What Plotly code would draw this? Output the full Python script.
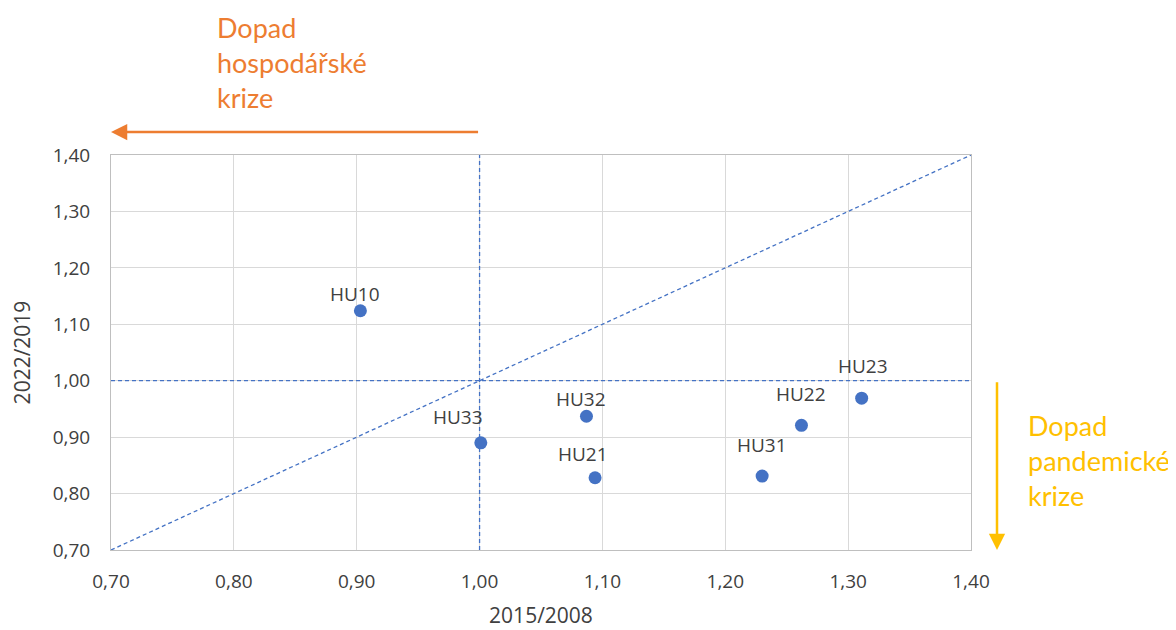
import plotly.graph_objects as go

regions = ["HU10", "HU33", "HU32", "HU21", "HU31", "HU22", "HU23"]
x_2015_2008 = [0.903, 1.001, 1.087, 1.094, 1.230, 1.262, 1.311]
y_2022_2019 = [1.124, 0.890, 0.937, 0.828, 0.831, 0.921, 0.969]
# label offsets (style only), pixels
label_dx = [-5, -23, -5, -12, 0, 0, 1]
label_dy = [17, 26, 17, 24, 31, 31, 32]

tick_vals = [0.70, 0.80, 0.90, 1.00, 1.10, 1.20, 1.30, 1.40]
tick_text = ["0,70", "0,80", "0,90", "1,00", "1,10", "1,20", "1,30", "1,40"]

blue = "#4472C4"
orange = "#ED7D31"
yellow = "#FFC000"
txt = "#404040"
font_main = "Open Sans, Noto Sans"

fig = go.Figure()

# reference lines
for xs, ys in [([0.70, 1.40], [0.70, 1.40]), ([0.70, 1.40], [1.00, 1.00]), ([1.00, 1.00], [0.70, 1.40])]:
    fig.add_trace(go.Scatter(x=xs, y=ys, mode="lines",
                             line=dict(color=blue, width=1.3, dash="4px,3px"), hoverinfo="skip"))

fig.add_trace(go.Scatter(x=x_2015_2008, y=y_2022_2019, mode="markers",
                         marker=dict(color=blue, size=13), text=regions))

for r, xv, yv, dx, dy in zip(regions, x_2015_2008, y_2022_2019, label_dx, label_dy):
    fig.add_annotation(x=xv, y=yv, text=r, showarrow=False, xshift=dx, yshift=dy,
                       font=dict(family=font_main, size=19, color=txt))

# orange arrow (economic crisis)
fig.add_annotation(x=0.70, y=(549 - 131) / 395, xref="x", yref="y domain", ax=1.00,
                   ay=(549 - 131) / 395, axref="x", ayref="y domain", showarrow=True,
                   arrowhead=2, arrowsize=1.3, arrowwidth=2.5, arrowcolor=orange, text="")
fig.add_annotation(x=(214 - 110) / 860, y=(549 - 8) / 395, xref="paper", yref="paper",
                   xanchor="left", yanchor="top", align="left", showarrow=False,
                   text="Dopad<br>hospodářské<br>krize",
                   font=dict(family="Lato, Open Sans", size=27, color=orange))

# yellow arrow (pandemic crisis)
fig.add_annotation(x=(996 - 110) / 860, y=0.70, xref="x domain", yref="y",
                   ax=(996 - 110) / 860, ay=1.00, axref="x domain", ayref="y",
                   showarrow=True, arrowhead=2, arrowsize=1.3, arrowwidth=2.5,
                   arrowcolor=yellow, text="")
fig.add_annotation(x=(1025 - 110) / 860, y=(549 - 406) / 395, xref="paper", yref="paper",
                   xanchor="left", yanchor="top", align="left", showarrow=False,
                   text="Dopad<br>pandemické<br>krize",
                   font=dict(family="Lato, Open Sans", size=27, color=yellow))

axis_common = dict(range=[0.70, 1.40], tickvals=tick_vals, ticktext=tick_text,
                   showgrid=True, gridcolor="#D9D9D9", gridwidth=1, automargin=False,
                   zeroline=False, showline=True, linecolor="#BFBFBF", mirror=True,
                   tickfont=dict(family=font_main, size=19, color=txt))

fig.update_xaxes(**axis_common, ticklabelstandoff=14,
                 title=dict(text="2015/2008", standoff=15,
                            font=dict(family=font_main, size=21, color=txt)))
fig.update_yaxes(**axis_common, ticklabelstandoff=16,
                 title=dict(text="2022/2019", standoff=19,
                            font=dict(family=font_main, size=21, color=txt)))

fig.update_layout(width=1176, height=630, showlegend=False,
                  plot_bgcolor="white", paper_bgcolor="white",
                  margin=dict(l=103, r=213, t=147, b=88))

fig.write_html("out.html")
